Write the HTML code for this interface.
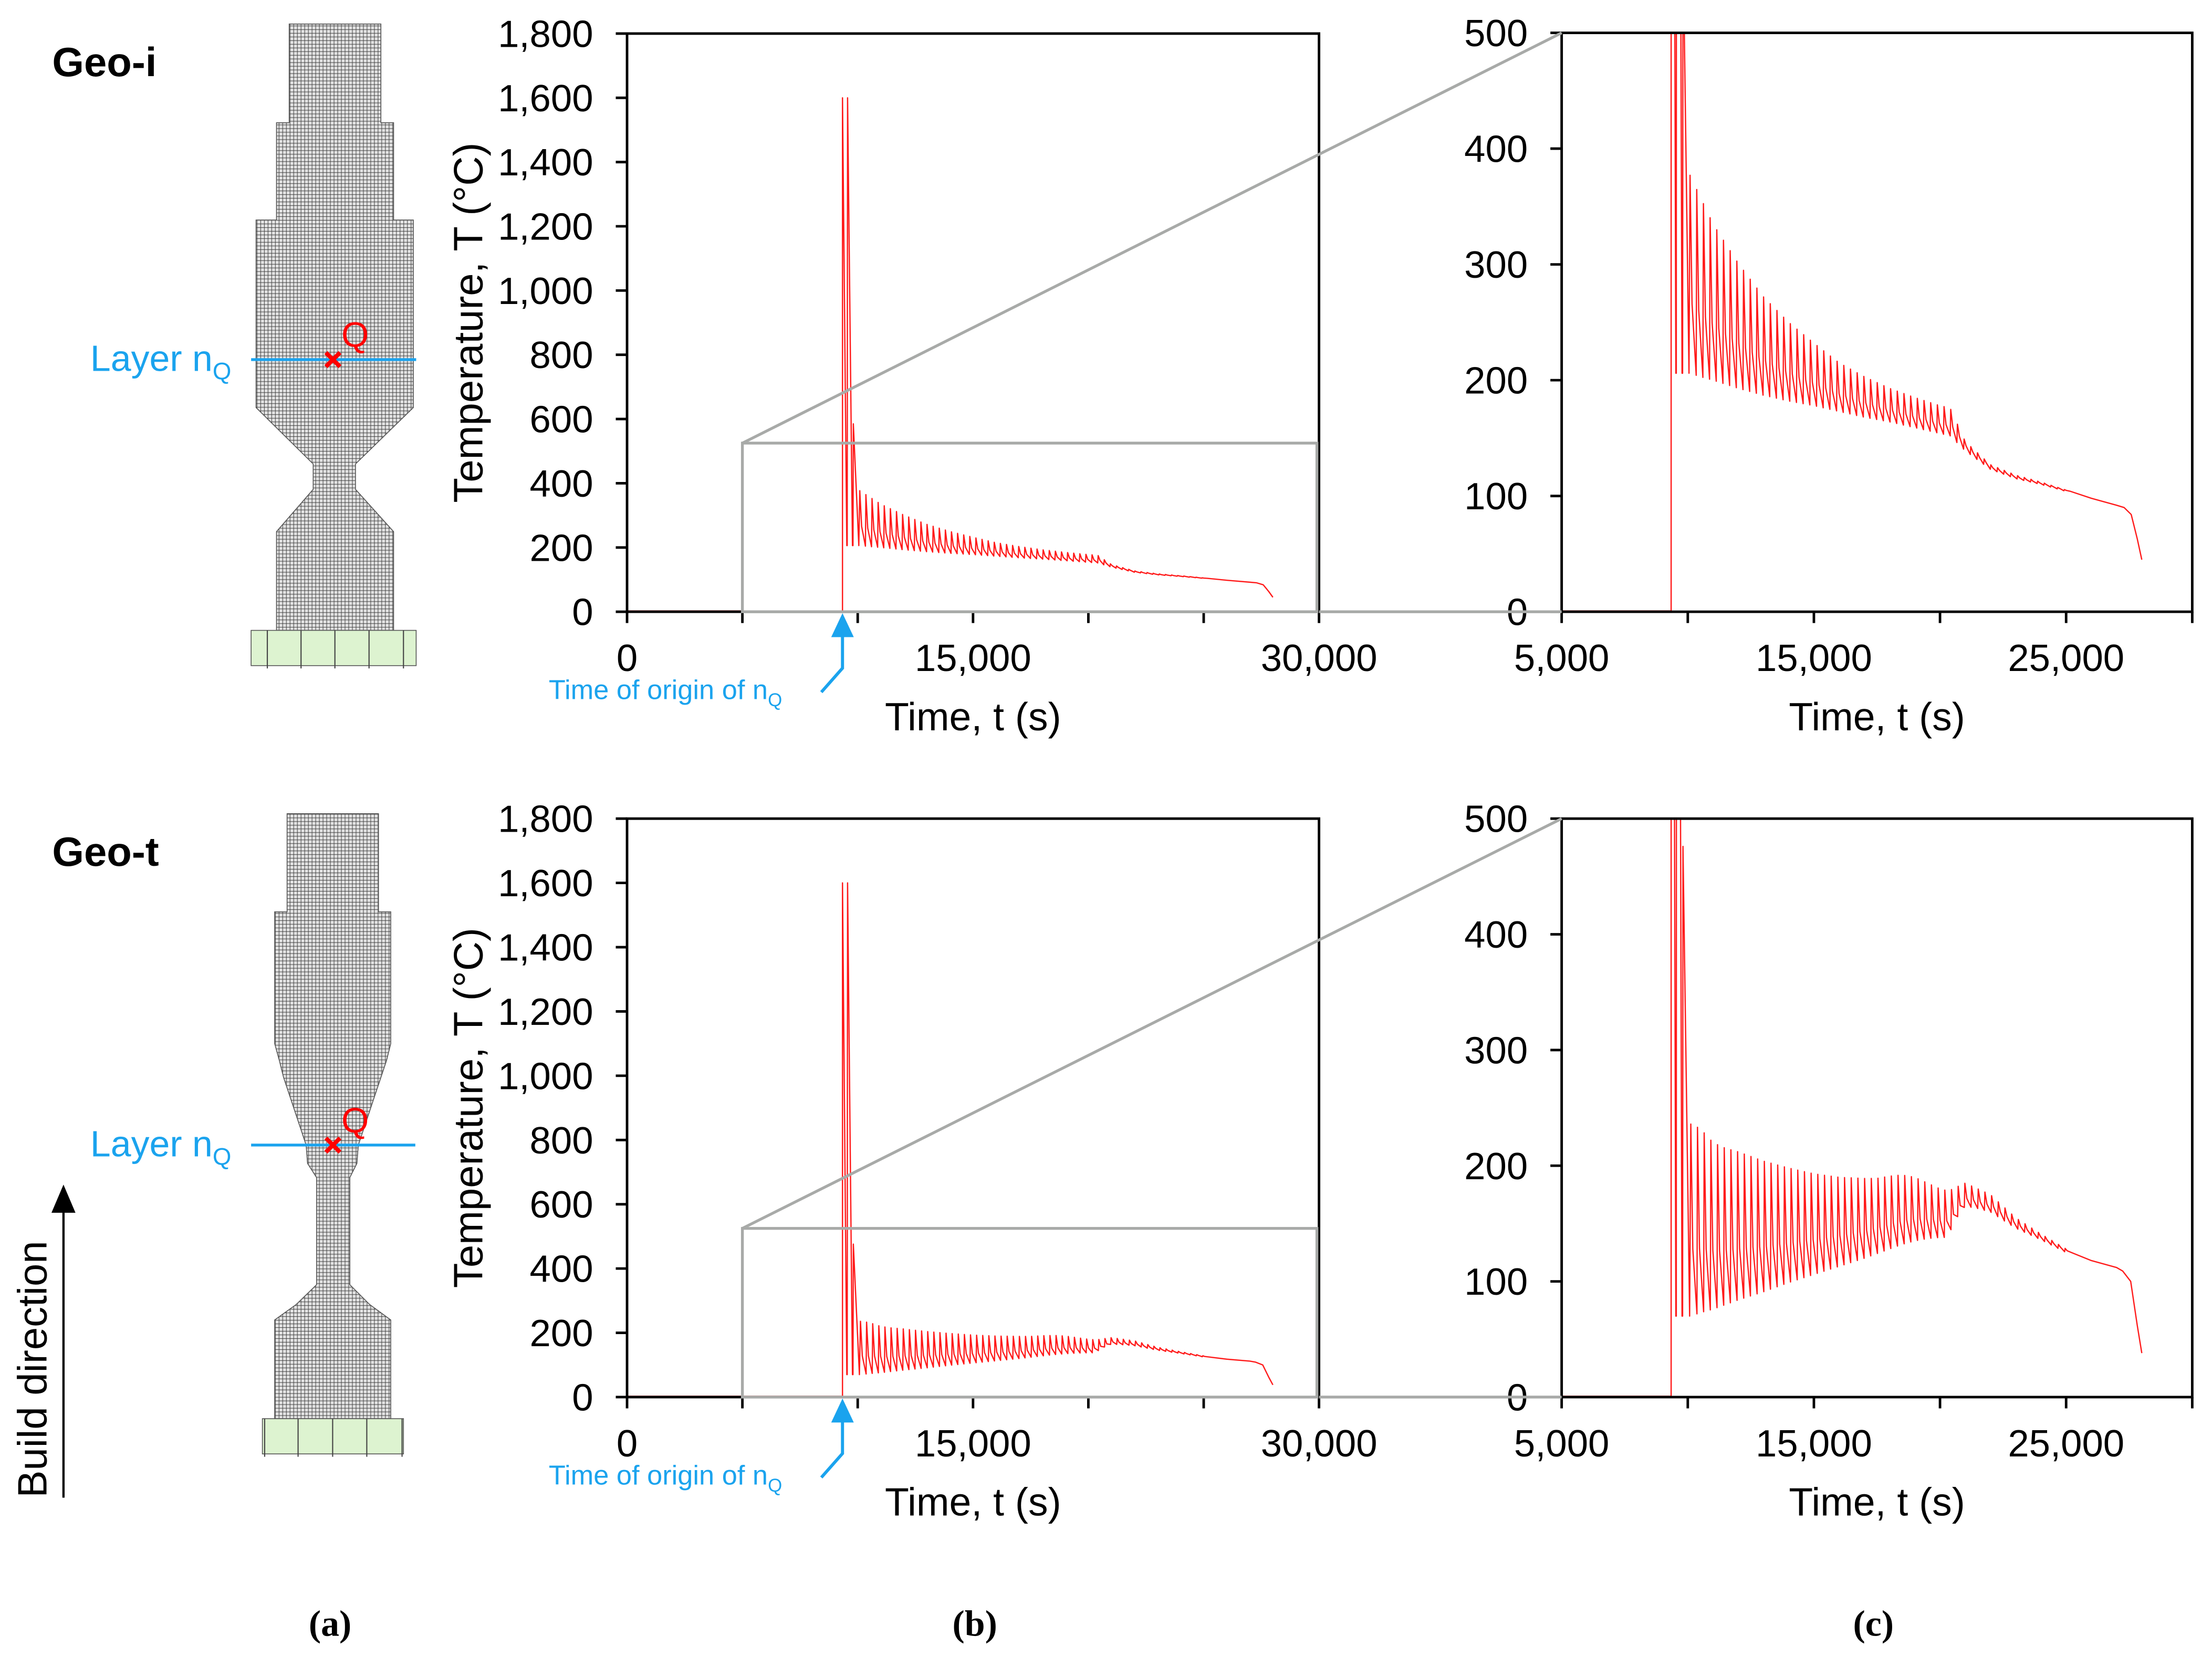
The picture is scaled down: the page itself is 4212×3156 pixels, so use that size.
<!DOCTYPE html>
<html><head><meta charset="utf-8"><title>Thermal history Geo-i / Geo-t</title>
<style>
html,body{margin:0;padding:0;background:#fff;}
svg{display:block;}
text{font-family:"Liberation Sans",Arial,sans-serif;}
</style></head>
<body>
<svg id="fig" xmlns="http://www.w3.org/2000/svg" width="4212" height="3156" viewBox="0 0 1568 1175" preserveAspectRatio="none">
<defs>
<pattern id="mesh" patternUnits="userSpaceOnUse" width="2.6" height="2.6">
<rect width="2.6" height="2.6" fill="#e2e2e2"/>
<path d="M0 0H2.6M0 0V2.6" stroke="#404040" stroke-width="0.75" fill="none"/>
</pattern>
<clipPath id="clipB1"><rect x="444.5" y="23.8" width="490.5" height="410"/></clipPath>
<clipPath id="clipB2"><rect x="444.5" y="580.5" width="490.5" height="410.2"/></clipPath>
<clipPath id="clipC1"><rect x="1107" y="23.3" width="447" height="410.5"/></clipPath>
<clipPath id="clipC2"><rect x="1107" y="580.5" width="447" height="410.2"/></clipPath>
</defs>

<!-- Panel (a) geometries -->
<g>
<text x="37" y="54" font-size="29" font-weight="bold">Geo-i</text>
<polygon fill="url(#mesh)" stroke="#555" stroke-width="0.6"
points="205,17 270,17 270,87 279,87 279,156 293,156 293,289 252,329 252,347 279,377 279,447 196,447 196,377 222,347 222,329 181.5,289 181.5,156 196,156 196,87 205,87"/>
<g>
<rect x="178" y="447" width="117" height="25" fill="#ddf3d0" stroke="#555" stroke-width="0.6"/>
<path d="M189.5 447V474M213.4 447V474M237.4 447V474M261.6 447V474M286 447V474" stroke="#444" stroke-width="0.8"/>
</g>
<line x1="178" y1="255" x2="295" y2="255" stroke="#1aa3ee" stroke-width="2"/>
<text x="64" y="263" font-size="26" fill="#1aa3ee">Layer n<tspan font-size="17" dy="6">Q</tspan></text>
<path d="M231 250L241 260M241 250L231 260" stroke="#f00" stroke-width="3"/>
<text x="242" y="246" font-size="25" fill="#f00">Q</text>
</g>

<g>
<text x="37" y="614" font-size="29" font-weight="bold">Geo-t</text>
<polygon fill="url(#mesh)" stroke="#555" stroke-width="0.6"
points="203.5,577 268.3,577 268.3,646.6 277,646.6 277,740 274,752 270,764 266,776 262,788 258,800 254,812 253,825 248,835 248,911 262,925 277,936 277,1006 194.7,1006 194.7,936 210,925 224.4,911 224.4,835 218,825 217,812 213,800 209,788 205,776 201,764 198,752 194.7,740 194.7,646.6 203.5,646.6"/>
<g>
<rect x="186" y="1006" width="100" height="25" fill="#ddf3d0" stroke="#555" stroke-width="0.6"/>
<path d="M187.6 1006V1033M211.3 1006V1033M235.8 1006V1033M260 1006V1033M285 1006V1033" stroke="#444" stroke-width="0.8"/>
</g>
<line x1="178" y1="812" x2="294.4" y2="812" stroke="#1aa3ee" stroke-width="2"/>
<text x="64" y="820" font-size="26" fill="#1aa3ee">Layer n<tspan font-size="17" dy="6">Q</tspan></text>
<path d="M231 807L241 817M241 807L231 817" stroke="#f00" stroke-width="3"/>
<text x="242" y="803" font-size="25" fill="#f00">Q</text>
</g>

<g>
<line x1="45" y1="1062" x2="45" y2="856" stroke="#000" stroke-width="1.6"/>
<polygon points="45,840 36.5,860 53.5,860" fill="#000"/>
<text transform="translate(33,1062) rotate(-90)" font-size="29">Build direction</text>
</g>

<g id="charts"></g>

<text x="234" y="1160" font-size="26" font-weight="bold" text-anchor="middle" style="font-family:'Liberation Serif',serif">(a)</text>
<text x="691" y="1160" font-size="26" font-weight="bold" text-anchor="middle" style="font-family:'Liberation Serif',serif">(b)</text>
<text x="1328" y="1160" font-size="26" font-weight="bold" text-anchor="middle" style="font-family:'Liberation Serif',serif">(c)</text>
</svg>

<script>
// ---------- data ----------
const spikeTimes = [9340, 9560, 9810];
const geoISpikes = [1600, 1600, 585];
const geoTSpikes = [1600, 1600, 476];
const layerPeriod = 265;

const geoIEnvT  = [10090, 10500, 11000, 12000, 13000, 14000, 15000, 16000, 17000, 18000, 19000, 20000, 20400, 21000, 22000, 23000, 24000, 25000];
const geoIEnvHi = [377, 358, 335, 301, 272, 250, 232, 215, 203, 193, 185, 178, 176, 147, 127, 118, 112, 105];
const geoIEnvLo = [206, 203, 200, 193, 187, 182, 178, 173, 168, 164, 159, 154, 152, 139, 123, 115, 110, 104];
const geoITailT = [25000, 26000, 27000, 27300, 27580, 27820, 28000];
const geoITailV = [104, 98, 92, 90, 84, 63, 45];

const geoTEnvT  = [10120, 10500, 11000, 11500, 12000, 13000, 14000, 15000, 16000, 17000, 17500, 18000, 18500, 19000, 19500, 20000, 20350, 20500, 21000, 21500, 22000, 23000, 24000, 25000];
const geoTEnvHi = [236, 232, 220, 215, 212, 204, 198, 193, 190, 189, 189, 191, 192, 190, 185, 180, 178, 180, 185, 180, 175, 155, 141, 128];
const geoTEnvLo = [70, 73, 76, 80, 84, 91, 99, 106, 113, 120, 124, 128, 132, 135, 137, 138, 138, 150, 165, 163, 160, 146, 136, 125];
const geoTTailT = [25000, 26000, 27000, 27240, 27560, 27820, 28000];
const geoTTailV = [126, 118, 112, 109, 100, 62, 38];

const yTicksB = [0, 200, 400, 600, 800, 1000, 1200, 1400, 1600, 1800];
const yTickLabelsB = ["0", "200", "400", "600", "800", "1,000", "1,200", "1,400", "1,600", "1,800"];
const xTicksB = [0, 5000, 10000, 15000, 20000, 25000, 30000];
const xLabelTicksB = [0, 15000, 30000];
const xTickLabelsB = ["0", "15,000", "30,000"];
const yTicksC = [0, 100, 200, 300, 400, 500];
const yTickLabelsC = ["0", "100", "200", "300", "400", "500"];
const xTicksC = [5000, 10000, 15000, 20000, 25000, 30000];
const xLabelTicksC = [5000, 15000, 25000];
const xTickLabelsC = ["5,000", "15,000", "25,000"];
const zoomBox = [5000, 30000, 0, 525];
const originTime = 9340;

// ---------- helpers ----------
const NS = "http://www.w3.org/2000/svg";
const root = document.getElementById("charts");
function mk(tag, attrs, parent) {
  const e = document.createElementNS(NS, tag);
  for (const k in attrs) e.setAttribute(k, attrs[k]);
  (parent || root).appendChild(e);
  return e;
}
function interp(xs, ys, x) {
  if (x <= xs[0]) return ys[0];
  for (let i = 1; i < xs.length; i++) {
    if (x <= xs[i]) { const f = (x - xs[i-1]) / (xs[i] - xs[i-1]); return ys[i-1] + f * (ys[i] - ys[i-1]); }
  }
  return ys[ys.length - 1];
}
function buildSeries(spk, envT, hi, lo, tailT, tailV) {
  const pts = [[0, 0], [spikeTimes[0], 0]];
  for (let i = 0; i < spikeTimes.length; i++) {
    const t = spikeTimes[i];
    if (i > 0) pts.push([t - 15, lo[0]]);
    pts.push([t, spk[i]]);
    const next = i + 1 < spikeTimes.length ? spikeTimes[i+1] : envT[0];
    pts.push([t + 0.85 * (next - t), lo[0]]);
  }
  const last = envT[envT.length - 1];
  for (let t = envT[0]; t < last; t += layerPeriod) {
    const h = interp(envT, hi, t), l = interp(envT, lo, t);
    pts.push([t, h]);
    pts.push([t + 0.3 * layerPeriod, l + 0.35 * (h - l)]);
    pts.push([t + 0.92 * layerPeriod, interp(envT, lo, t + 0.92 * layerPeriod)]);
  }
  const lt = pts[pts.length - 1][0];
  for (let i = 0; i < tailT.length; i++) if (tailT[i] > lt) pts.push([tailT[i], tailV[i]]);
  return pts;
}

function drawPanel(cfg) {
  const g = mk("g", {});
  
  
  const L = cfg.x0, R = cfg.x1, T = cfg.yTop, B = cfg.yBot;
  const X = t => L + (t - cfg.tMin) / (cfg.tMax - cfg.tMin) * (R - L);
  const Y = v => B - (v - cfg.vMin) / (cfg.vMax - cfg.vMin) * (B - T);

  const pts = cfg.series;
  const base = mk("polyline", {points: X(Math.max(cfg.tMin, 0)) + "," + Y(0) + " " + X(spikeTimes[0]) + "," + Y(0),
    fill: "none", stroke: "#c00000", "stroke-width": 2, "clip-path": "url(#" + cfg.clip + ")"}, g);
  
  
  const d = pts.slice(1).map(p => X(p[0]).toFixed(2) + "," + Y(p[1]).toFixed(2)).join(" ");
  const line = mk("polyline", {points: d, fill: "none", stroke: "#ff1a1a", "stroke-width": 0.9, "stroke-linejoin": "round", "clip-path": "url(#" + cfg.clip + ")"}, g);
  
  

  const fr = mk("rect", {x: L, y: T, width: R - L, height: B - T, fill: "none", stroke: "#000", "stroke-width": 1.8}, g);
  
  

  cfg.yTicks.forEach((v, i) => {
    const tk = mk("line", {x1: L - 8, x2: L, y1: Y(v), y2: Y(v), stroke: "#000", "stroke-width": 1.8}, g);
    
    
    const tx = mk("text", {x: L - 24, y: Y(v) + 9.5, "font-size": 27, "text-anchor": "end"}, g);
    tx.textContent = cfg.yLabels[i];
    
    
  });
  cfg.xTicks.forEach(t => {
    const tk = mk("line", {x1: X(t), x2: X(t), y1: B, y2: B + 8, stroke: "#000", "stroke-width": 1.8}, g);
    
    
  });
  cfg.xLabelTicks.forEach((t, i) => {
    const tx = mk("text", {x: X(t), y: B + 42, "font-size": 27, "text-anchor": "middle"}, g);
    tx.textContent = cfg.xLabels[i];
    
    
  });
  const xt = mk("text", {x: (L + R) / 2, y: B + 84, "font-size": 28, "text-anchor": "middle"}, g);
  xt.textContent = "Time, t (s)";
  
  
  if (cfg.yTitle) {
    const yt = mk("text", {transform: "translate(342," + ((T + B) / 2) + ") rotate(-90)", "font-size": 29, "text-anchor": "middle"}, g);
    yt.textContent = "Temperature, T (°C)";
    
    
  }
  return {X, Y};
}

function drawRow(yTopB, yBotB, yTopC, yBotC, spk, envT, hi, lo, tailT, tailV, tag) {
  const series = buildSeries(spk, envT, hi, lo, tailT, tailV);
  const b = drawPanel({name: "chart-b-" + tag, x0: 444.5, x1: 935, yTop: yTopB, yBot: yBotB, tMin: 0, tMax: 30000, vMin: 0, vMax: 1800,
    yTicks: yTicksB, yLabels: yTickLabelsB, xTicks: xTicksB, xLabelTicks: xLabelTicksB, xLabels: xTickLabelsB, series, clip: tag === "geo-i" ? "clipB1" : "clipB2", yTitle: true});
  drawPanel({name: "chart-c-" + tag, x0: 1107, x1: 1554, yTop: yTopC, yBot: yBotC, tMin: 5000, tMax: 30000, vMin: 0, vMax: 500,
    yTicks: yTicksC, yLabels: yTickLabelsC, xTicks: xTicksC, xLabelTicks: xLabelTicksC, xLabels: xTickLabelsC, series, clip: tag === "geo-i" ? "clipC1" : "clipC2", yTitle: false});
  const zb = mk("g", {fill: "none", stroke: "#a8aaa8", "stroke-width": 2});
  
  
  mk("rect", {x: b.X(zoomBox[0]), y: b.Y(zoomBox[3]), width: b.X(zoomBox[1]) - b.X(zoomBox[0]) - 1.5, height: b.Y(zoomBox[2]) - b.Y(zoomBox[3])}, zb);
  mk("line", {x1: b.X(zoomBox[0]), y1: b.Y(zoomBox[3]), x2: 1107, y2: yTopC}, zb);
  mk("line", {x1: b.X(zoomBox[1]), y1: b.Y(0), x2: 1107, y2: yBotC}, zb);
  const ax = b.X(originTime);
  const ag = mk("g", {});
  
  
  mk("polygon", {points: ax + "," + (yBotB + 1) + " " + (ax - 8) + "," + (yBotB + 18) + " " + (ax + 8) + "," + (yBotB + 18), fill: "#1aa3ee"}, ag);
  mk("polyline", {points: ax + "," + (yBotB + 16) + " " + ax + "," + (yBotB + 40) + " " + (ax - 15) + "," + (yBotB + 57), fill: "none", stroke: "#1aa3ee", "stroke-width": 2.2}, ag);
  const ot = mk("text", {x: 389, y: yBotB + 62, "font-size": 19.5, fill: "#1aa3ee"}, ag);
  ot.innerHTML = 'Time of origin of n<tspan font-size="13" dy="5">Q</tspan>';
  
  
}

drawRow(23.8, 433.8, 23.3, 433.8, geoISpikes, geoIEnvT, geoIEnvHi, geoIEnvLo, geoITailT, geoITailV, "geo-i");
drawRow(580.5, 990.7, 580.5, 990.7, geoTSpikes, geoTEnvT, geoTEnvHi, geoTEnvLo, geoTTailT, geoTTailV, "geo-t");
</script>
</body></html>
